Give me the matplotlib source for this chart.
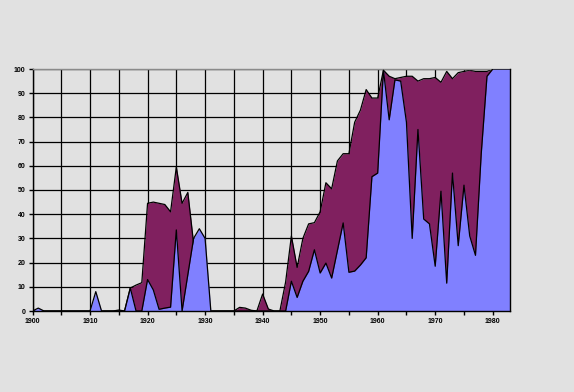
import numpy as np
import matplotlib
matplotlib.use('Agg')
import matplotlib.pyplot as plt
from matplotlib.ticker import MultipleLocator

years = list(range(1900, 1984))

# front series (blue), one value per year 1900-1983
blue = [0, 1.2, 0, 0, 0, 0, 0, 0, 0, 0,                 # 1900s
        0, 8, 0, 0, 0, 0, 0, 9.5, 0, 0,                 # 1910s
        13, 8.7, 0.7, 1.2, 1.6, 33.5, 0, 15, 30, 34,    # 1920s
        30, 0, 0, 0, 0, 0, 0, 0, 0, 0,                  # 1930s
        0, 0, 0, 0, 0, 12.3, 5.6, 12.3, 16.4, 25.3,     # 1940s
        15.7, 19.8, 13.6, 25, 36.4, 16, 16.5, 19, 22, 55.5,   # 1950s
        57, 99.5, 79, 95.5, 95, 78, 30, 75, 38, 36,     # 1960s
        18.5, 49.5, 11.5, 57, 27, 52, 31, 23, 65, 97,   # 1970s
        100, 100, 100, 100]                             # 1980s

# back series (maroon)
maroon = [0, 0, 0, 0, 0, 0, 0, 0, 0, 0,
          0, 0, 0, 0, 0, 0.4, 0, 9.5, 10.7, 11.7,
          44.5, 45, 44.5, 44, 41, 59.5, 44.5, 49, 28, 0,
          0, 0, 0, 0, 0, 0, 1.5, 1.2, 0.3, 0,
          7, 0.8, 0, 0, 12, 31, 18, 30, 36, 36.5,
          41, 53, 50.5, 62, 65, 65, 78, 83, 91.5, 88,
          88, 99.5, 97, 96, 96.5, 97, 97, 95, 96, 96,
          96.5, 94.5, 99, 96, 98.5, 99, 99.5, 99, 99, 99,
          100, 100, 100, 100]

bg = '#e1e1e1'
fig = plt.figure(figsize=(5.74, 3.92), dpi=100, facecolor=bg)
ax = fig.add_axes([32.5/574, (392-311)/392, (510-32.5)/574, (311-69)/392])
ax.set_facecolor(bg)

ax.fill_between(years, maroon, 0, color='#80205f', lw=0, zorder=2)
ax.plot(years, maroon, color='black', lw=0.9, zorder=2)
ax.fill_between(years, blue, 0, color='#8080ff', lw=0, zorder=3)
ax.plot(years, blue, color='black', lw=0.9, zorder=3)

ax.set_xlim(1900, 1983)
ax.set_ylim(0, 100)
ax.xaxis.set_major_locator(MultipleLocator(10))
ax.xaxis.set_minor_locator(MultipleLocator(5))
ax.yaxis.set_major_locator(MultipleLocator(10))

ax.set_axisbelow(True)
ax.grid(which='both', axis='x', color='black', lw=0.9)
ax.grid(which='major', axis='y', color='black', lw=0.9)

for s in ['left', 'bottom', 'right']:
    ax.spines[s].set_color('black')
    ax.spines[s].set_linewidth(1)
ax.spines['top'].set_color('#8a8a8a')
ax.spines['top'].set_linewidth(1)
ax.spines['right'].set_zorder(4)
ax.spines['bottom'].set_zorder(4)

ax.tick_params(which='both', length=3, width=1, color='black', pad=2,
               labelsize=5)
for lab in ax.get_xticklabels() + ax.get_yticklabels():
    lab.set_fontfamily('Liberation Sans')
    lab.set_fontweight('bold')

plt.savefig('out.png', dpi=100, facecolor=bg)
